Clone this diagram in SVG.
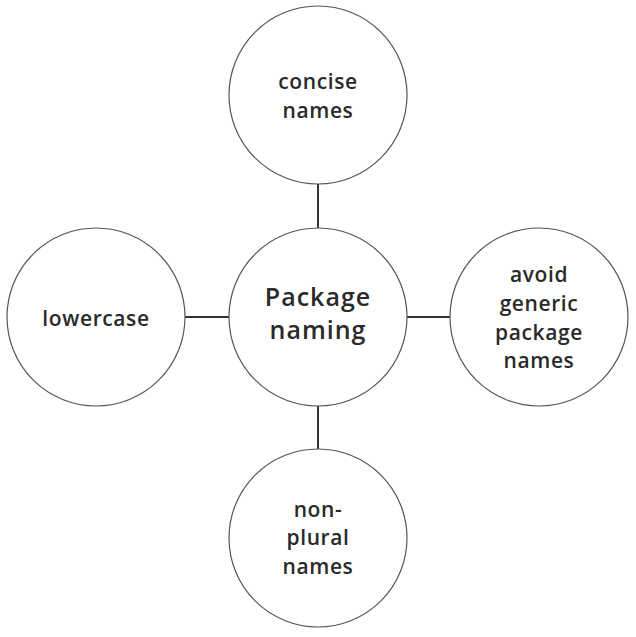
<svg xmlns="http://www.w3.org/2000/svg" width="636" height="637" viewBox="0 0 636 637">
<style>
.node circle{fill:#fff;stroke:#555;stroke-width:1.2}
.node text{font-family:"Open Sans","Liberation Sans",sans-serif;font-size:21px;font-weight:600;letter-spacing:0.6px;fill:#2a2a2a;text-anchor:middle}
#center text{font-size:25px;letter-spacing:1px}
.conn line{stroke:#333;stroke-width:2}
</style>
<rect width="636" height="637" fill="#fff"/>
<g class="conn">
<line x1="318" y1="184" x2="318" y2="228"/>
<line x1="318" y1="406" x2="318" y2="449"/>
<line x1="185" y1="317" x2="229" y2="317"/>
<line x1="407" y1="317" x2="450" y2="317"/>
</g>
<g id="top" class="node"><circle cx="318" cy="95" r="89"/><text x="318" y="89">concise</text><text x="318" y="118">names</text></g>
<g id="center" class="node"><circle cx="318" cy="317" r="89"/><text x="318" y="306">Package</text><text x="318" y="339">naming</text></g>
<g id="left" class="node"><circle cx="96" cy="317" r="89"/><text x="96" y="326">lowercase</text></g>
<g id="right" class="node"><circle cx="539" cy="317" r="89"/><text x="539" y="282">avoid</text><text x="539" y="311">generic</text><text x="539" y="340">package</text><text x="539" y="368">names</text></g>
<g id="bottom" class="node"><circle cx="318" cy="538" r="89"/><text x="318" y="517">non-</text><text x="318" y="545">plural</text><text x="318" y="574">names</text></g>
</svg>
